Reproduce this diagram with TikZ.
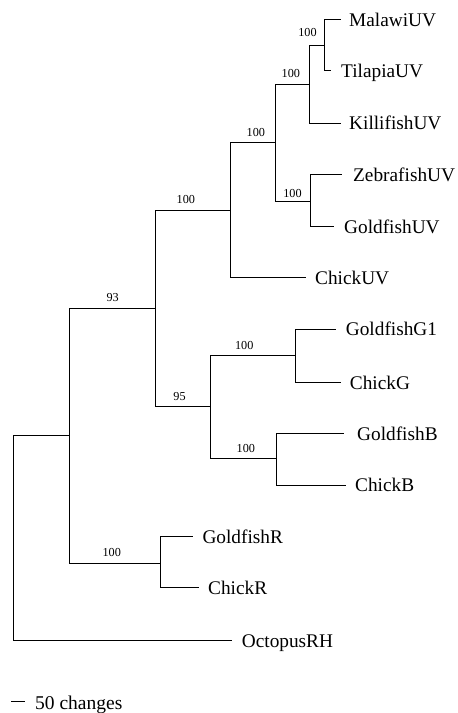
\documentclass[tikz,border=0pt]{standalone}
\usepackage{fontspec}
\setmainfont{Liberation Serif}
\begin{document}
\begin{tikzpicture}[x=1pt,y=-1pt,
  branch/.style={line width=1.4pt,line cap=rect},
  taxon/.style={anchor=base west,inner sep=0pt,font=\fontsize{19.3}{22}\selectfont},
  boot/.style={anchor=base,inner sep=0pt,font=\fontsize{12.2}{14}\selectfont},
  scaletext/.style={anchor=base west,inner sep=0pt,font=\fontsize{19.5}{22}\selectfont}]
\useasboundingbox (0,0) rectangle (458,713);

% internal nodes (x = position of the vertical bar, y = height of the stem)
\coordinate (R)   at (13.5,435.5);
\coordinate (A)   at (69.5,435.5);
\coordinate (B)   at (155.5,308.5);
\coordinate (C)   at (230.5,210.5);
\coordinate (E)   at (275.5,142.5);
\coordinate (F)   at (309.5,84.5);
\coordinate (H)   at (324.5,45.5);
\coordinate (G)   at (310.5,201.5);
\coordinate (D)   at (210.5,406.5);
\coordinate (I)   at (295.5,355.5);
\coordinate (J)   at (276.5,458.5);
\coordinate (Rd)  at (160.5,563.5);

% branch tips
\coordinate (tMal) at (340,19.5);
\coordinate (tTil) at (330,70.5);
\coordinate (tKil) at (340,123.5);
\coordinate (tZeb) at (341.7,174.5);
\coordinate (tGUV) at (333,226.5);
\coordinate (tCUV) at (305,277.5);
\coordinate (tGG)  at (335,329.5);
\coordinate (tCG)  at (340,382.5);
\coordinate (tGB)  at (343,433.5);
\coordinate (tCB)  at (345,485.5);
\coordinate (tGR)  at (192.7,536.5);
\coordinate (tCR)  at (198.3,587.5);
\coordinate (tOct) at (231.7,640.5);

% branches
\draw[branch] (R) |- (A);
\draw[branch] (R) |- (tOct);
\draw[branch] (A) |- (B);
\draw[branch] (A) |- (Rd);
\draw[branch] (B) |- (C);
\draw[branch] (B) |- (D);
\draw[branch] (C) |- (E);
\draw[branch] (C) |- (tCUV);
\draw[branch] (E) |- (F);
\draw[branch] (E) |- (G);
\draw[branch] (F) |- (H);
\draw[branch] (F) |- (tKil);
\draw[branch] (H) |- (tMal);
\draw[branch] (H) |- (tTil);
\draw[branch] (G) |- (tZeb);
\draw[branch] (G) |- (tGUV);
\draw[branch] (D) |- (I);
\draw[branch] (D) |- (J);
\draw[branch] (I) |- (tGG);
\draw[branch] (I) |- (tCG);
\draw[branch] (J) |- (tGB);
\draw[branch] (J) |- (tCB);
\draw[branch] (Rd) |- (tGR);
\draw[branch] (Rd) |- (tCR);

% taxon names
\node[taxon] (lMal) at (349,26.3)  {MalawiUV};
\node[taxon] (lTil) at (341,77.5)  {TilapiaUV};
\node[taxon] (lKil) at (349,129.8) {KillifishUV};
\node[taxon] (lZeb) at (353,181.5) {ZebrafishUV};
\node[taxon] (lGUV) at (344,233.5) {GoldfishUV};
\node[taxon] (lCUV) at (315,284.5) {ChickUV};
\node[taxon] (lGG)  at (345.7,335.8) {GoldfishG1};
\node[taxon] (lCG)  at (349.7,389.1) {ChickG};
\node[taxon] (lGB)  at (357,440.1) {GoldfishB};
\node[taxon] (lCB)  at (355,491.8) {ChickB};
\node[taxon] (lGR)  at (202.3,543.1) {GoldfishR};
\node[taxon] (lCR)  at (208,594.5) {ChickR};
\node[taxon] (lOct) at (241.7,647.5) {OctopusRH};

% bootstrap support values
\node[boot] (bH)  at (307.5,36.7)  {100};
\node[boot] (bF)  at (290.8,77.3)  {100};
\node[boot] (bE)  at (255.8,136.7) {100};
\node[boot] (bG)  at (292.5,197.3) {100};
\node[boot] (bC)  at (185.8,203.3) {100};
\node[boot] (bB)  at (112.7,301)   {93};
\node[boot] (bD)  at (179.5,400.7) {95};
\node[boot] (bI)  at (244.2,349.3) {100};
\node[boot] (bJ)  at (245.8,452.7) {100};
\node[boot] (bRd) at (111.7,556.7) {100};

% scale bar
\coordinate (s0) at (11.7,701.5);
\coordinate (s1) at (24,701.5);
\draw[branch] (s0) -- (s1);
\node[scaletext] (sText) at (35,709) {50 changes};
\end{tikzpicture}
\end{document}
